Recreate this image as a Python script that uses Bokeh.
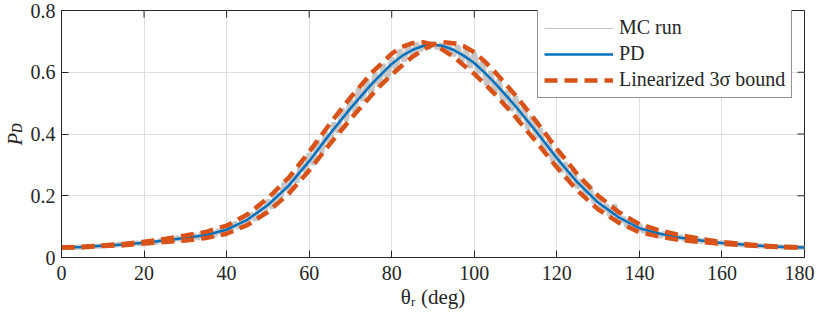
from bokeh.plotting import figure
from bokeh.models import Range1d, FixedTicker, Legend, LegendItem
from bokeh.embed import file_html
from bokeh.resources import INLINE

# ---- data ----
theta_pd = [0, 5, 10, 15, 20, 25, 30, 35, 40, 45, 50, 55, 60, 65, 70, 75, 77.5, 80, 82.5, 85, 87.5,
            90, 92.5, 95, 97.5, 100, 102.5, 105, 110, 115, 120, 125, 130, 135, 140, 145, 150, 155,
            160, 165, 170, 175, 180]
pd_vals = [0.032, 0.034, 0.038, 0.042, 0.048, 0.055, 0.063, 0.073, 0.090, 0.122, 0.170, 0.232, 0.312,
           0.400, 0.483, 0.560, 0.594, 0.627, 0.653, 0.672, 0.685, 0.690, 0.685, 0.672, 0.653, 0.630,
           0.599, 0.565, 0.490, 0.408, 0.322, 0.243, 0.178, 0.130, 0.095, 0.077, 0.064, 0.055, 0.047,
           0.042, 0.037, 0.034, 0.032]
bound_a = [0.032, 0.0345, 0.039, 0.044, 0.051, 0.060, 0.071, 0.083, 0.103, 0.139, 0.192, 0.258, 0.342,
           0.433, 0.518, 0.596, 0.628, 0.660, 0.682, 0.694, 0.697, 0.690, 0.672, 0.650, 0.622, 0.595,
           0.563, 0.529, 0.455, 0.375, 0.292, 0.217, 0.156, 0.113, 0.082, 0.067, 0.056, 0.050, 0.044,
           0.040, 0.036, 0.0335, 0.032]
bound_b = [0.032, 0.0335, 0.037, 0.040, 0.045, 0.050, 0.055, 0.063, 0.077, 0.105, 0.148, 0.206, 0.282,
           0.367, 0.448, 0.524, 0.560, 0.592, 0.622, 0.650, 0.672, 0.690, 0.697, 0.694, 0.684, 0.665,
           0.635, 0.601, 0.525, 0.441, 0.352, 0.269, 0.200, 0.147, 0.108, 0.087, 0.072, 0.060, 0.050,
           0.044, 0.038, 0.0345, 0.032]

theta_mc = list(range(0, 181))
mc_vals = [
    0.0320, 0.0323, 0.0330, 0.0330, 0.0339, 0.0335, 0.0352, 0.0350, 0.0370, 0.0363,
    0.0386, 0.0378, 0.0409, 0.0393, 0.0428, 0.0405, 0.0454, 0.0430, 0.0478, 0.0441,
    0.0501, 0.0463, 0.0537, 0.0480, 0.0564, 0.0508, 0.0619, 0.0539, 0.0659, 0.0558,
    0.0710, 0.0602, 0.0749, 0.0609, 0.0785, 0.0650, 0.0848, 0.0684, 0.0895, 0.0747,
    0.1004, 0.0843, 0.1131, 0.0945, 0.1282, 0.1078, 0.1437, 0.1208, 0.1720, 0.1407,
    0.1865, 0.1596, 0.2090, 0.1865, 0.2435, 0.2138, 0.2721, 0.2433, 0.3084, 0.2785,
    0.3375, 0.3005, 0.3800, 0.3362, 0.4067, 0.3670, 0.4366, 0.4045, 0.4823, 0.4422,
    0.5145, 0.4714, 0.5498, 0.5076, 0.5752, 0.5258, 0.5983, 0.5549, 0.6265, 0.5786,
    0.6480, 0.6088, 0.6735, 0.6351, 0.6855, 0.6555, 0.6936, 0.6708, 0.6922, 0.6779,
    0.6956, 0.6783, 0.6911, 0.6652, 0.6864, 0.6533, 0.6874, 0.6363, 0.6738, 0.6144,
    0.6650, 0.5957, 0.6342, 0.5568, 0.6032, 0.5326, 0.5767, 0.4996, 0.5411, 0.4752,
    0.5233, 0.4494, 0.4880, 0.4154, 0.4578, 0.3882, 0.4183, 0.3434, 0.3782, 0.3117,
    0.3445, 0.2770, 0.3074, 0.2511, 0.2843, 0.2248, 0.2527, 0.1987, 0.2276, 0.1773,
    0.1967, 0.1478, 0.1716, 0.1303, 0.1720, 0.1100, 0.1303, 0.1011, 0.1217, 0.0917,
    0.1067, 0.0819, 0.0992, 0.0769, 0.0888, 0.0665, 0.0803, 0.0629, 0.0754, 0.0580,
    0.0688, 0.0559, 0.0669, 0.0543, 0.0618, 0.0512, 0.0580, 0.0493, 0.0534, 0.0454,
    0.0491, 0.0435, 0.0470, 0.0416, 0.0443, 0.0403, 0.0427, 0.0389, 0.0403, 0.0371,
    0.0380, 0.0359, 0.0365, 0.0345, 0.0350, 0.0335, 0.0339, 0.0329, 0.0329, 0.0323,
    0.0320]
assert len(theta_mc) == len(mc_vals), (len(theta_mc), len(mc_vals))
assert len(theta_pd) == len(pd_vals) == len(bound_a) == len(bound_b)

x_ticks = [0, 20, 40, 60, 80, 100, 120, 140, 160, 180]
y_ticks = [0, 0.2, 0.4, 0.6, 0.8]
y_tick_labels = ["0", "0.2", "0.4", "0.6", "0.8"]

FONT = "Liberation Serif"
AX = "#262626"
X0, X1, Y0, Y1 = 0, 180, 0, 0.8
TICK = 7
FW, FH = 750, 240   # approximate frame size in px

p = figure(width=814, height=311, output_backend="svg", toolbar_location=None,
           x_range=Range1d(X0, X1), y_range=Range1d(Y0, Y1),
           min_border_left=55, min_border_right=10, min_border_top=10, min_border_bottom=53)
p.outline_line_color = AX
p.outline_line_width = 1
p.background_fill_color = "white"

xa = p.below[0]
ya = p.left[0]

# MC run: dense jagged grey trace (wide stroke) + thin stroke of the same data (legend key)
p.line(theta_mc, mc_vals, line_color="#c8c8c8", line_width=5)
r_mc = p.line(theta_mc, mc_vals, line_color="#c4c4c4", line_width=1)
r_pd = p.line(theta_pd, pd_vals, line_color="#0072BD", line_width=2.5)
r_ba = p.line(theta_pd, bound_a, line_color="#D95319", line_width=4.5, line_dash="13 7")
r_bb = p.line(theta_pd, bound_b, line_color="#D95319", line_width=4.5, line_dash="13 7")

# inward ticks on the top and right edges of the box
dy = TICK / FH * (Y1 - Y0)
dx = TICK / FW * (X1 - X0)
p.segment(x0=x_ticks, y0=[Y1] * len(x_ticks), x1=x_ticks, y1=[Y1 - dy] * len(x_ticks),
          line_color=AX, line_width=1)
p.segment(x0=[X1] * len(y_ticks), y0=y_ticks, x1=[X1 - dx] * len(y_ticks), y1=y_ticks,
          line_color=AX, line_width=1)

xt = FixedTicker(ticks=x_ticks)
yt = FixedTicker(ticks=y_ticks)
xa.ticker = xt
ya.ticker = yt
ya.major_label_overrides = {v: s for v, s in zip(y_ticks, y_tick_labels)}
p.xgrid.ticker = xt
p.ygrid.ticker = yt
p.grid.grid_line_color = "#dfdfdf"
p.grid.grid_line_width = 1

for ax in [xa, ya]:
    ax.axis_line_color = AX
    ax.axis_line_width = 1
    ax.major_tick_line_color = AX
    ax.major_tick_in = TICK
    ax.major_tick_out = 0
    ax.minor_tick_line_color = None
    ax.major_label_text_font = FONT
    ax.major_label_text_color = AX
    ax.major_label_text_font_size = "20px"
    ax.axis_label_text_font = FONT
    ax.axis_label_text_color = AX

xa.major_label_standoff = 8
ya.major_label_standoff = 6
xa.axis_label = "θᵣ (deg)"
xa.axis_label_text_font_size = "21px"
xa.axis_label_text_font_style = "normal"
xa.axis_label_standoff = 2
ya.axis_label = "Pᴅ"
ya.axis_label_text_font_size = "20px"
ya.axis_label_text_font_style = "italic"
ya.axis_label_standoff = 2

legend = Legend(items=[LegendItem(label="MC run", renderers=[r_mc]),
                       LegendItem(label="PD", renderers=[r_pd]),
                       LegendItem(label="Linearized 3σ bound", renderers=[r_ba])],
                location=(476, 159))
legend.label_text_font = FONT
legend.label_text_font_size = "20px"
legend.label_text_color = AX
legend.glyph_width = 69
legend.glyph_height = 20
legend.label_height = 20
legend.label_standoff = 6
legend.spacing = 3
legend.padding = 6
legend.margin = 0
legend.border_line_color = AX
legend.border_line_width = 1
legend.background_fill_alpha = 1
p.add_layout(legend)

open("out.html", "w").write(file_html(p, INLINE))
